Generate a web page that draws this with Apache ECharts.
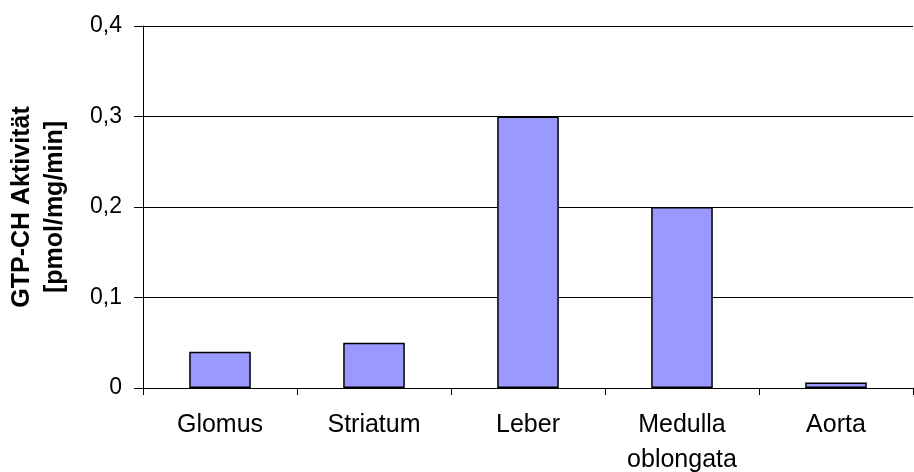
<!DOCTYPE html>
<html>
<head>
<meta charset="utf-8">
<script src="https://cdn.jsdelivr.net/npm/echarts@6/dist/echarts.min.js"></script>
<style>
html,body{margin:0;padding:0;background:#fff;}
#chart{width:914px;height:472px;}
</style>
</head>
<body>
<div id="chart"></div>
<script>
const categories = ['Glomus', 'Striatum', 'Leber', 'Medulla\noblongata', 'Aorta'];
const values = [0.04, 0.05, 0.3, 0.2, 0.006];
const yTitle = 'GTP-CH Aktivität\n[pmol/mg/min]';
const yMin = 0, yMax = 0.4, yStep = 0.1;

const FONT = '"Liberation Sans", Arial, sans-serif';
const chart = echarts.init(document.getElementById('chart'), null, {renderer: 'canvas'});
chart.setOption({
  animation: false,
  backgroundColor: '#ffffff',
  grid: {left: 143, right: 1, top: 26, bottom: 84, containLabel: false, outerBoundsMode: 'none'},
  xAxis: {
    type: 'category',
    data: categories,
    axisLine: {lineStyle: {color: '#000', width: 1}},
    axisTick: {show: true, alignWithLabel: false, length: 7, lineStyle: {color: '#000', width: 1}},
    axisLabel: {color: '#000', fontFamily: FONT, fontSize: 25, margin: 20, lineHeight: 35, interval: 0}
  },
  yAxis: {
    type: 'value',
    min: yMin, max: yMax, interval: yStep,
    name: yTitle,
    nameLocation: 'middle',
    nameRotate: 90,
    nameGap: 71,
    nameTextStyle: {color: '#000', fontFamily: FONT, fontSize: 25, fontWeight: 'bold', lineHeight: 33, align: 'center'},
    axisLine: {show: true, lineStyle: {color: '#000', width: 1}},
    axisTick: {show: true, length: 9, lineStyle: {color: '#000', width: 1}},
    axisLabel: {color: '#000', fontFamily: FONT, fontSize: 23, margin: 21,
      formatter: v => v === 0 ? '0' : v.toFixed(1).replace('.', ',')},
    splitLine: {show: true, lineStyle: {color: '#000', width: 1}}
  },
  series: [{
    type: 'bar',
    data: values,
    barWidth: '40%',
    itemStyle: {color: '#9999FF', borderColor: '#000', borderWidth: 1.5}
  }]
});
</script>
</body>
</html>
